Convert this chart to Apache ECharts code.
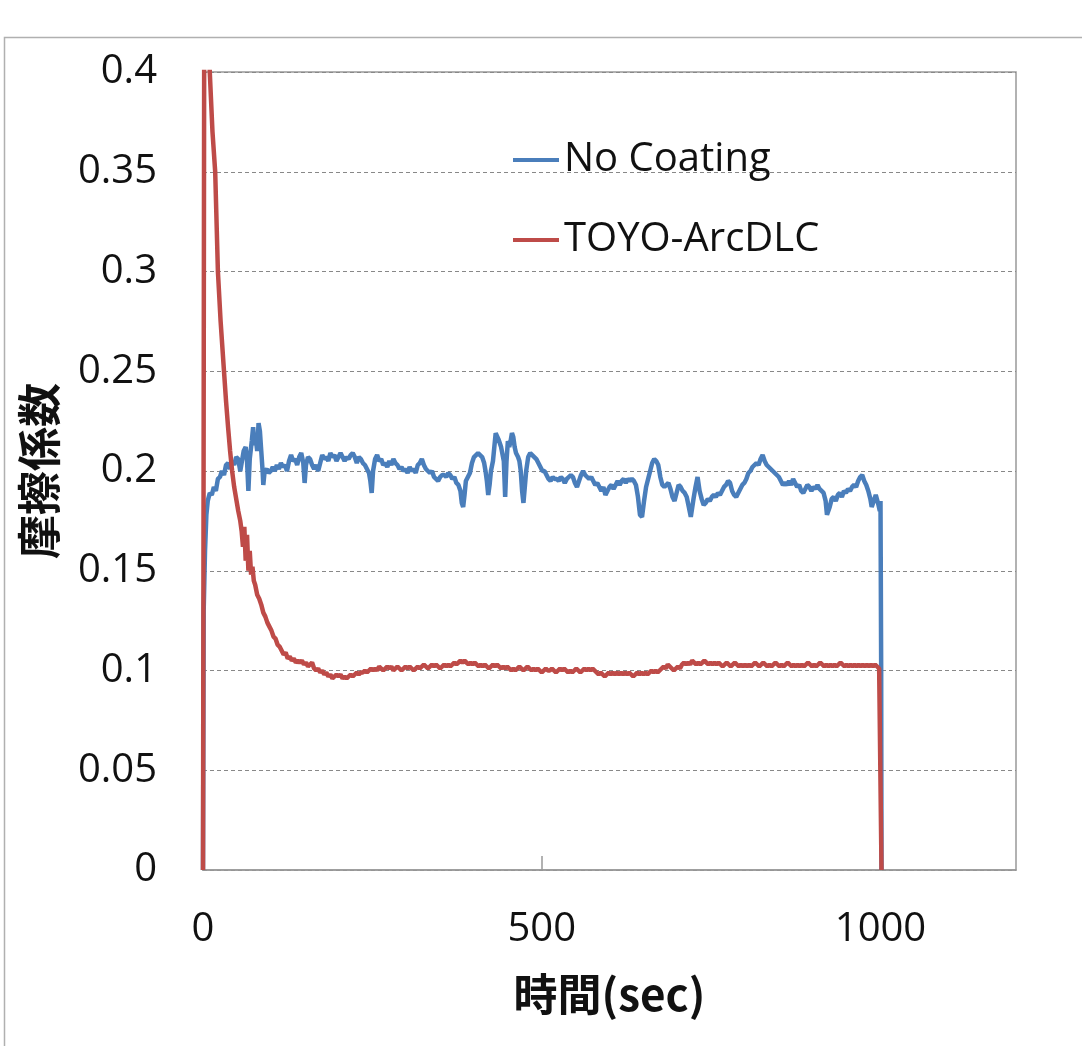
<!DOCTYPE html>
<html>
<head>
<meta charset="utf-8">
<script src="https://cdn.jsdelivr.net/npm/echarts@6/dist/echarts.min.js"></script>
<style>
html,body{margin:0;padding:0;background:#fff;}
#chart{width:1082px;height:1046px;}
</style>
</head>
<body>
<div id="chart"></div>
<script>
// ---- data (time [sec], friction coefficient) ----
var seriesNames = ['No Coating', 'TOYO-ArcDLC'];
var xTicks = [0, 500, 1000];
var yTicks = [0, 0.05, 0.1, 0.15, 0.2, 0.25, 0.3, 0.35, 0.4];

var noCoating = [
[0,0],[1,0.13],[3,0.16],[5,0.178],[7,0.185],[10,0.189],[13,0.188],[16,0.192],[19,0.19],[22,0.196],[25,0.197],[28,0.2],[31,0.198],[34,0.203],[37,0.204],[40,0.201],[43,0.205],[46,0.203],[49,0.207],[52,0.206],[55,0.2],[57,0.204],[60,0.21],[63,0.212],[65,0.205],[67,0.19],[69,0.206],[72,0.215],[74,0.222],[76,0.213],[78,0.216],[80,0.21],[82,0.224],[84,0.22],[86,0.21],[88,0.2],[89,0.193],[91,0.2],[94,0.201],[97,0.199],[100,0.2],[103,0.202],[106,0.2],[109,0.203],[112,0.201],[115,0.204],[118,0.202],[121,0.203],[124,0.2],[127,0.205],[130,0.208],[133,0.205],[136,0.206],[139,0.203],[142,0.207],[145,0.209],[148,0.204],[150,0.194],[152,0.203],[155,0.207],[158,0.206],[161,0.203],[164,0.201],[167,0.203],[170,0.2],[173,0.204],[176,0.208],[179,0.206],[182,0.207],[185,0.205],[188,0.209],[191,0.207],[194,0.208],[197,0.205],[200,0.207],[203,0.209],[206,0.207],[209,0.205],[212,0.207],[215,0.206],[218,0.208],[221,0.209],[224,0.207],[227,0.204],[230,0.207],[233,0.206],[236,0.204],[239,0.203],[242,0.201],[245,0.199],[247,0.195],[249,0.189],[251,0.2],[254,0.206],[257,0.208],[260,0.205],[263,0.206],[266,0.203],[269,0.204],[272,0.202],[275,0.205],[278,0.203],[281,0.206],[284,0.204],[287,0.203],[290,0.201],[293,0.202],[296,0.2],[299,0.201],[302,0.199],[305,0.202],[308,0.2],[311,0.201],[314,0.199],[317,0.203],[320,0.204],[323,0.206],[326,0.203],[329,0.201],[332,0.2],[335,0.199],[338,0.2],[341,0.197],[344,0.196],[347,0.195],[350,0.197],[353,0.198],[356,0.198],[359,0.197],[362,0.199],[365,0.198],[368,0.196],[371,0.197],[374,0.194],[377,0.193],[380,0.19],[382,0.184],[384,0.182],[386,0.188],[388,0.195],[391,0.197],[394,0.199],[397,0.204],[400,0.207],[403,0.208],[406,0.209],[409,0.208],[412,0.207],[415,0.204],[417,0.2],[419,0.195],[421,0.188],[423,0.193],[425,0.2],[428,0.205],[430,0.212],[432,0.219],[434,0.22],[436,0.216],[438,0.215],[440,0.212],[442,0.213],[444,0.205],[446,0.187],[448,0.205],[450,0.215],[452,0.212],[454,0.215],[456,0.219],[458,0.217],[460,0.212],[462,0.209],[465,0.207],[467,0.205],[469,0.2],[471,0.19],[473,0.184],[475,0.192],[477,0.2],[480,0.207],[483,0.209],[486,0.208],[489,0.207],[492,0.206],[495,0.204],[498,0.202],[501,0.2],[504,0.2],[507,0.198],[510,0.196],[513,0.195],[516,0.197],[519,0.196],[522,0.196],[525,0.195],[528,0.197],[531,0.196],[534,0.194],[537,0.196],[540,0.197],[543,0.198],[546,0.197],[549,0.194],[552,0.192],[555,0.195],[558,0.198],[561,0.2],[564,0.198],[567,0.197],[570,0.196],[573,0.197],[576,0.195],[579,0.193],[582,0.194],[585,0.192],[588,0.19],[591,0.192],[594,0.188],[597,0.19],[600,0.192],[603,0.193],[606,0.191],[609,0.193],[612,0.195],[615,0.193],[618,0.195],[621,0.196],[624,0.194],[627,0.196],[630,0.195],[633,0.196],[636,0.195],[639,0.193],[642,0.187],[645,0.178],[648,0.177],[651,0.185],[654,0.192],[657,0.196],[660,0.2],[663,0.204],[666,0.206],[669,0.205],[672,0.203],[675,0.197],[678,0.193],[681,0.192],[684,0.193],[687,0.194],[690,0.191],[693,0.187],[696,0.185],[699,0.189],[702,0.193],[705,0.192],[708,0.19],[711,0.189],[714,0.187],[717,0.182],[720,0.177],[722,0.178],[724,0.186],[727,0.192],[730,0.197],[733,0.19],[736,0.186],[739,0.183],[742,0.184],[745,0.186],[748,0.185],[751,0.187],[754,0.188],[757,0.187],[760,0.189],[763,0.188],[766,0.19],[769,0.192],[772,0.193],[775,0.195],[778,0.194],[781,0.19],[784,0.188],[787,0.187],[790,0.189],[793,0.191],[796,0.193],[799,0.194],[802,0.196],[805,0.199],[808,0.2],[811,0.202],[814,0.203],[817,0.204],[820,0.203],[823,0.206],[826,0.208],[829,0.205],[832,0.203],[835,0.202],[838,0.201],[841,0.2],[844,0.199],[847,0.198],[850,0.197],[853,0.195],[856,0.193],[859,0.194],[862,0.193],[865,0.195],[868,0.193],[871,0.196],[874,0.194],[877,0.192],[880,0.193],[883,0.19],[886,0.189],[889,0.191],[892,0.193],[895,0.192],[898,0.19],[901,0.192],[904,0.191],[907,0.193],[910,0.191],[913,0.19],[916,0.189],[919,0.185],[921,0.178],[923,0.177],[925,0.182],[928,0.186],[931,0.187],[934,0.185],[937,0.188],[940,0.189],[943,0.187],[946,0.19],[949,0.189],[952,0.191],[955,0.19],[958,0.192],[961,0.193],[964,0.192],[967,0.195],[970,0.197],[973,0.198],[976,0.195],[979,0.193],[982,0.19],[985,0.186],[987,0.182],[989,0.181],[991,0.186],[993,0.188],[995,0.187],[997,0.183],[999,0.18],[1000,0.185],[1001,0.1],[1001.5,0]
];

var toyoArcDLC = [
[0,0],[2,0.47],[5,0.46],[10,0.4],[14,0.37],[18,0.35],[22,0.3],[26,0.275],[31,0.25],[34,0.235],[37,0.222],[40,0.21],[43,0.2],[46,0.192],[49,0.186],[52,0.18],[55,0.175],[57,0.17],[59,0.162],[61,0.172],[63,0.155],[65,0.168],[67,0.15],[69,0.16],[71,0.148],[73,0.152],[75,0.145],[77,0.143],[80,0.138],[83,0.136],[86,0.133],[89,0.129],[92,0.127],[95,0.124],[98,0.122],[101,0.12],[104,0.117],[107,0.116],[110,0.113],[113,0.112],[116,0.11],[119,0.108],[122,0.109],[125,0.106],[128,0.107],[131,0.105],[134,0.106],[137,0.104],[140,0.105],[143,0.104],[146,0.105],[149,0.103],[152,0.104],[155,0.102],[158,0.103],[161,0.104],[164,0.101],[167,0.1],[170,0.101],[173,0.099],[176,0.1],[179,0.098],[182,0.099],[185,0.097],[188,0.098],[191,0.096],[194,0.097],[197,0.098],[200,0.097],[203,0.098],[206,0.096],[209,0.097],[212,0.096],[215,0.097],[218,0.098],[221,0.097],[224,0.098],[227,0.099],[230,0.098],[233,0.099],[236,0.099],[239,0.1],[242,0.099],[245,0.1],[248,0.101],[251,0.1],[254,0.101],[257,0.1],[260,0.102],[263,0.101],[266,0.1],[269,0.101],[272,0.102],[275,0.101],[278,0.102],[281,0.1],[284,0.101],[287,0.102],[290,0.101],[293,0.1],[296,0.101],[299,0.102],[302,0.101],[305,0.102],[308,0.101],[311,0.1],[314,0.101],[317,0.102],[320,0.101],[323,0.102],[326,0.103],[329,0.102],[332,0.101],[335,0.102],[338,0.103],[341,0.102],[344,0.103],[347,0.102],[350,0.101],[353,0.102],[356,0.103],[359,0.102],[362,0.103],[365,0.102],[368,0.103],[371,0.104],[374,0.103],[377,0.104],[380,0.105],[383,0.104],[386,0.105],[389,0.104],[392,0.103],[395,0.104],[398,0.103],[401,0.104],[404,0.103],[407,0.102],[410,0.103],[413,0.102],[416,0.103],[419,0.102],[422,0.101],[425,0.102],[428,0.103],[431,0.102],[434,0.103],[437,0.102],[440,0.101],[443,0.102],[446,0.101],[449,0.102],[452,0.101],[455,0.1],[458,0.101],[461,0.1],[464,0.101],[467,0.102],[470,0.101],[473,0.1],[476,0.101],[479,0.102],[482,0.101],[485,0.1],[488,0.101],[491,0.1],[494,0.101],[497,0.1],[500,0.099],[503,0.1],[506,0.101],[509,0.1],[512,0.1],[515,0.101],[518,0.1],[521,0.099],[524,0.1],[527,0.101],[530,0.1],[533,0.101],[536,0.1],[539,0.099],[542,0.1],[545,0.099],[548,0.1],[551,0.101],[554,0.1],[557,0.099],[560,0.1],[563,0.101],[566,0.1],[569,0.101],[572,0.1],[575,0.101],[578,0.1],[581,0.099],[584,0.098],[587,0.099],[590,0.098],[593,0.097],[596,0.098],[599,0.099],[602,0.098],[605,0.099],[608,0.098],[611,0.099],[614,0.098],[617,0.099],[620,0.098],[623,0.099],[626,0.098],[629,0.099],[632,0.098],[635,0.097],[638,0.098],[641,0.099],[644,0.098],[647,0.099],[650,0.098],[653,0.099],[656,0.098],[659,0.099],[662,0.1],[665,0.099],[668,0.1],[671,0.099],[674,0.1],[677,0.101],[680,0.102],[683,0.101],[686,0.103],[689,0.102],[692,0.101],[695,0.1],[698,0.101],[701,0.102],[704,0.101],[707,0.103],[710,0.104],[713,0.103],[716,0.104],[719,0.103],[722,0.105],[725,0.104],[728,0.103],[731,0.104],[734,0.103],[737,0.104],[740,0.105],[743,0.104],[746,0.103],[749,0.104],[752,0.103],[755,0.104],[758,0.103],[761,0.104],[764,0.103],[767,0.102],[770,0.103],[773,0.104],[776,0.103],[779,0.102],[782,0.103],[785,0.104],[788,0.103],[791,0.102],[794,0.103],[797,0.102],[800,0.103],[803,0.102],[806,0.103],[809,0.102],[812,0.103],[815,0.104],[818,0.103],[821,0.102],[824,0.103],[827,0.104],[830,0.103],[833,0.102],[836,0.103],[839,0.102],[842,0.103],[845,0.104],[848,0.103],[851,0.102],[854,0.103],[857,0.102],[860,0.103],[863,0.104],[866,0.103],[869,0.102],[872,0.103],[875,0.102],[878,0.103],[881,0.102],[884,0.103],[887,0.102],[890,0.103],[893,0.104],[896,0.103],[899,0.102],[902,0.103],[905,0.102],[908,0.103],[911,0.104],[914,0.103],[917,0.102],[920,0.103],[923,0.102],[926,0.103],[929,0.102],[932,0.103],[935,0.102],[938,0.103],[941,0.104],[944,0.103],[947,0.102],[950,0.103],[953,0.102],[956,0.103],[959,0.102],[962,0.103],[965,0.102],[968,0.103],[971,0.102],[974,0.103],[977,0.102],[980,0.103],[983,0.102],[986,0.103],[989,0.102],[992,0.103],[995,0.102],[998,0.101],[1000,0.102],[1001.5,0]
];

var chart = echarts.init(document.getElementById('chart'), null, {renderer: 'canvas'});
var latin = '"Open Sans", "Noto Sans", sans-serif';
var cjk = '"Noto Sans CJK JP", "Noto Sans CJK SC", sans-serif';

chart.setOption({
  animation: false,
  backgroundColor: '#fff',
  graphic: [{
    type: 'rect',
    shape: {x: 4.5, y: 37.5, width: 1200, height: 1200},
    style: {fill: 'none', stroke: '#b0b0b0', lineWidth: 1.5},
    silent: true, z: -1
  }],
  grid: {
    left: 203, top: 72, right: 66, bottom: 176,
    show: true, borderColor: '#999', borderWidth: 1.5, backgroundColor: 'transparent'
  },
  legend: {
    data: seriesNames,
    orient: 'vertical',
    left: 508, top: 135,
    itemGap: 40,
    itemWidth: 46, itemHeight: 4,
    icon: 'rect',
    textStyle: {fontFamily: latin, fontSize: 40, color: '#111'}
  },
  xAxis: {
    type: 'value', min: 0, max: 1200, interval: 500,
    name: '時間(sec)', nameLocation: 'middle', nameGap: 102,
    nameTextStyle: {fontFamily: cjk, fontSize: 44, fontWeight: 'bold', color: '#111'},
    axisLine: {lineStyle: {color: '#999', width: 1.5}},
    axisTick: {show: true, inside: true, length: 14, lineStyle: {color: '#999', width: 1.5}},
    axisLabel: {
      fontFamily: latin, fontSize: 40, color: '#111', margin: 40,
      showMaxLabel: false,
      formatter: function (v) { return xTicks.indexOf(v) >= 0 ? String(v) : ''; }
    },
    splitLine: {show: false}
  },
  yAxis: {
    type: 'value', min: 0, max: 0.4, interval: 0.05,
    name: '摩擦係数', nameLocation: 'middle', nameGap: 142, nameRotate: 90,
    nameTextStyle: {fontFamily: cjk, fontSize: 44, fontWeight: 'bold', color: '#111'},
    axisLine: {show: true, lineStyle: {color: '#999', width: 1.5}},
    axisTick: {show: false},
    axisLabel: {
      fontFamily: latin, fontSize: 40, color: '#111', margin: 46,
      formatter: function (v) {
        var r = Math.round(v * 100) / 100;
        return yTicks.indexOf(r) >= 0 ? String(r) : '';
      }
    },
    splitLine: {show: true, lineStyle: {color: '#888', width: 1, type: [4, 3]}}
  },
  series: [
    {
      name: seriesNames[0], type: 'line', data: noCoating,
      showSymbol: false, symbol: 'none', clip: true,
      lineStyle: {color: '#4a7ebb', width: 4.5},
      itemStyle: {color: '#4a7ebb'}, z: 2
    },
    {
      name: seriesNames[1], type: 'line', data: toyoArcDLC,
      showSymbol: false, symbol: 'none', clip: true,
      lineStyle: {color: '#be4b48', width: 4.5},
      itemStyle: {color: '#be4b48'}, z: 3
    }
  ]
});
</script>
</body>
</html>
